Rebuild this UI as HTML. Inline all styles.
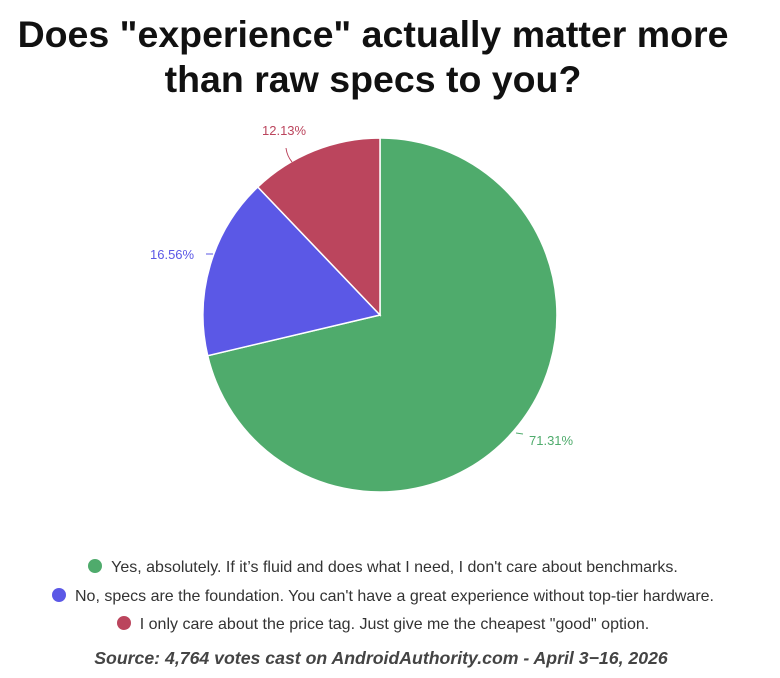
<!DOCTYPE html>
<html><head><meta charset="utf-8"><style>
body{margin:0;background:#fff;width:780px;height:678px;overflow:hidden;font-family:"Liberation Sans",sans-serif;}
.t{position:absolute;left:0;width:746px;text-align:center;font-weight:bold;font-size:37.5px;color:#111;line-height:45px;top:12px;white-space:nowrap;}
.lg{position:absolute;left:0;width:766px;text-align:center;font-size:16px;color:#333;white-space:nowrap;}
.d{display:inline-block;width:14px;height:14px;border-radius:50%;vertical-align:-1px;margin-right:9px;}
.src{position:absolute;left:0;width:762px;text-align:center;top:648px;font-size:17.7px;font-weight:bold;font-style:italic;color:#444;white-space:nowrap;}
</style></head><body>
<div class="t">Does "experience" actually matter more<br>than raw specs to you?</div>
<svg width="780" height="678" style="position:absolute;left:0;top:0">
<path d="M380,315 L380,138 A177,177 0 1 1 207.7,355.7 Z" fill="#4fab6c" stroke="#fff" stroke-width="1.5"/>
<path d="M380,315 L207.7,355.7 A177,177 0 0 1 257.8,187 Z" fill="#5b58e6" stroke="#fff" stroke-width="1.5"/>
<path d="M380,315 L257.8,187 A177,177 0 0 1 380,138 Z" fill="#bb455d" stroke="#fff" stroke-width="1.5"/>
<path d="M516,433 L523,434" stroke="#4fab6c" fill="none"/>
<path d="M206,254 L213,254" stroke="#5b58e6" fill="none"/>
<path d="M286,148 Q287,156 292,162" stroke="#bb455d" fill="none"/>
<text x="529" y="445" font-size="13" fill="#4fab6c" font-family="Liberation Sans,sans-serif">71.31%</text>
<text x="150" y="259" font-size="13" fill="#5b58e6" font-family="Liberation Sans,sans-serif">16.56%</text>
<text x="262" y="135" font-size="13" fill="#bb455d" font-family="Liberation Sans,sans-serif">12.13%</text>
</svg>
<div class="lg" style="top:559px"><span class="d" style="background:#4fab6c"></span>Yes, absolutely. If it’s fluid and does what I need, I don't care about benchmarks.</div>
<div class="lg" style="top:588px"><span class="d" style="background:#5b58e6"></span>No, specs are the foundation. You can't have a great experience without top-tier hardware.</div>
<div class="lg" style="top:616px"><span class="d" style="background:#bb455d"></span>I only care about the price tag. Just give me the cheapest "good" option.</div>
<div class="src">Source: 4,764 votes cast on AndroidAuthority.com - April 3−16, 2026</div>
</body></html>
